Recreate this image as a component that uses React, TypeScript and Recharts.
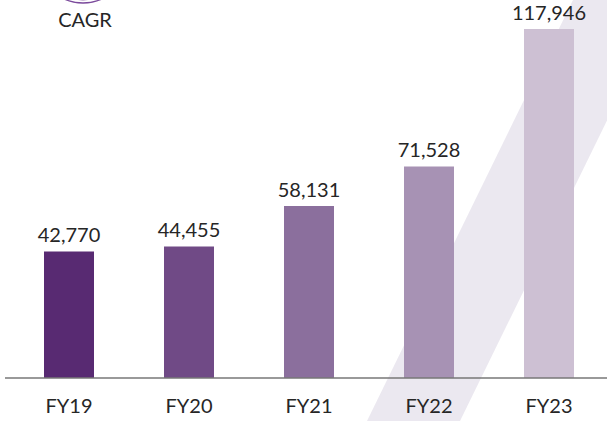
import { BarChart, Bar, XAxis, YAxis, LabelList, Cell } from 'recharts';

const years = ['FY19', 'FY20', 'FY21', 'FY22', 'FY23'];
const revenue = [42770, 44455, 58131, 71528, 117946];
const barColors = ['#582a72', '#704a86', '#8b6f9d', '#a792b4', '#cdc0d3'];

const data = years.map((year, i) => ({ year, value: revenue[i] }));

const font = 'Lato, "Noto Sans", sans-serif';

const App = () => (
  <div style={{ position: 'absolute', left: 0, top: 0, width: 607, height: 421, overflow: 'hidden', background: '#fff' }}>
    {/* background stripe + CAGR badge */}
    <svg width={607} height={421} style={{ position: 'absolute', left: 0, top: 0 }}>
      <polygon points="367,421 573,0 666,0 460,421" fill="#ebe8f0" />
      <circle cx={83} cy={-42} r={45} fill="none" stroke="#7b4a9c" strokeWidth={1.3} />
      <circle cx={83} cy={-42} r={42} fill="none" stroke="#9a74b4" strokeWidth={1} />
      <text x={85} y={27} textAnchor="middle" fontFamily={font} fontSize={20} fill="#262626">
        CAGR
      </text>
    </svg>
    <div style={{ position: 'absolute', left: 0, top: 0 }}>
      <BarChart width={612} height={421} data={data} margin={{ top: 23, right: 3, left: 5, bottom: 0 }}>
        <XAxis
          dataKey="year"
          axisLine={{ stroke: '#777', strokeWidth: 1.5 }}
          tickLine={false}
          tickSize={0}
          tickMargin={21}
          height={43}
          padding={{ left: 4, right: 0 }}
          tick={{ fontFamily: font, fontSize: 20, fill: '#262626' }}
        />
        <YAxis hide domain={[0, 120000]} />
        <Bar dataKey="value" barSize={50} isAnimationActive={false}>
          {data.map((d, i) => (
            <Cell key={d.year} fill={barColors[i]} />
          ))}
          <LabelList
            dataKey="value"
            position="top"
            offset={9}
            formatter={(v: number) => v.toLocaleString('en-US')}
            style={{ fontFamily: font, fontSize: 20, fill: '#262626' }}
          />
        </Bar>
      </BarChart>
    </div>
  </div>
);

export default App;
